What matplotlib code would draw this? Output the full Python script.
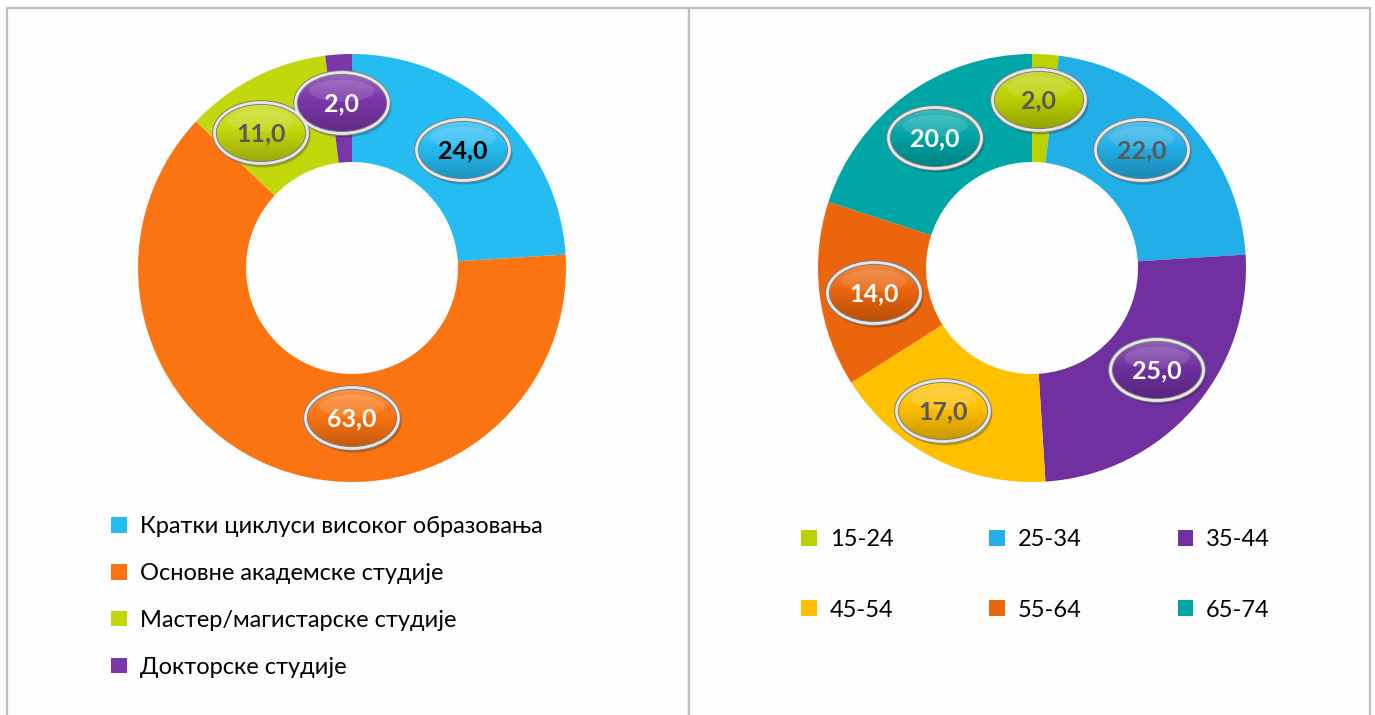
import numpy as np
import matplotlib
matplotlib.use("Agg")
import matplotlib.pyplot as plt
from matplotlib.patches import Ellipse, Rectangle
from matplotlib.colors import to_rgb

plt.rcParams['font.family'] = ['Lato', 'Noto Sans', 'DejaVu Sans']

# ---------------- data ----------------
edu_labels = ["Кратки циклуси високог образовања", "Основне академске студије",
              "Мастер/магистарске студије", "Докторске студије"]
edu_values = [24.0, 63.0, 11.0, 2.0]
edu_colors = ["#25BCF2", "#FA7412", "#C3D80C", "#7B36A8"]
edu_text_colors = ["#000000", "#FFFFFF", "#595959", "#FFFFFF"]

age_labels = ["15-24", "25-34", "35-44", "45-54", "55-64", "65-74"]
age_values = [2.0, 22.0, 25.0, 17.0, 14.0, 20.0]
age_colors = ["#BCD100", "#22AEE6", "#7030A0", "#FFC000", "#EB650C", "#00A5A5"]
age_text_colors = ["#595959", "#595959", "#FFFFFF", "#595959", "#FFFFFF", "#FFFFFF"]

# label bubble positions (pixels, from top-left)
edu_label_pos = [(463, 150), (352, 418), (261, 133), (342, 103)]
age_label_pos = [(1039, 100), (1142, 150), (1157, 370), (943, 411), (874, 293), (935, 138)]

W, H = 1375, 715
fig = plt.figure(figsize=(W / 100, H / 100), dpi=100)
fig.patch.set_facecolor("white")
ax = fig.add_axes([0, 0, 1, 1])
ax.set_axis_off()


def Y(y):
    return H - y


# panels
for x0, x1 in [(7, 689), (689, 1370)]:
    ax.add_patch(Rectangle((x0, Y(740)), x1 - x0, 740 - 8, facecolor="#FDFDFD",
                           edgecolor="#BFBFBF", lw=1.6, zorder=0))

R, r = 214, 106


def donut(center, values, colors):
    wedges, _ = ax.pie(values, colors=colors, startangle=90, counterclock=False,
                       radius=R, center=center,
                       wedgeprops=dict(width=R - r, edgecolor="none", linewidth=0))
    return wedges


def mix(c, other, t):
    c = np.array(to_rgb(c)); o = np.array(to_rgb(other))
    return c * (1 - t) + o * t


def bubble(x, y, text, color, tcolor, w=93, h=61):
    cx, cy = x, Y(y)
    ax.add_patch(Ellipse((cx + 2, cy - 3), w + 2, h + 2, facecolor="black", alpha=0.22,
                         edgecolor="none", zorder=4))
    clip = Ellipse((cx, cy), w, h, facecolor="none", edgecolor="none", zorder=5)
    ax.add_patch(clip)
    n = 64
    top = mix(color, "white", 0.25)
    mid = np.array(to_rgb(color))
    bot = mix(color, "black", 0.22)
    t = np.linspace(0, 1, n)[:, None]
    grad = np.where(t < 0.45, top * (1 - t / 0.45) + mid * (t / 0.45),
                    mid * (1 - (t - 0.45) / 0.55) + bot * ((t - 0.45) / 0.55))
    img = np.repeat(grad[:, None, :], 4, axis=1)
    im = ax.imshow(img, extent=(cx - w / 2, cx + w / 2, cy - h / 2, cy + h / 2),
                   origin="upper", aspect="auto", zorder=5, interpolation="bilinear")
    im.set_clip_path(clip)
    ax.add_patch(Ellipse((cx, cy + h * 0.2), w * 0.7, h * 0.36, facecolor="white",
                         alpha=0.12, edgecolor="none", zorder=6))
    ax.add_patch(Ellipse((cx, cy), w, h, facecolor="none", edgecolor="#7F7F7F", lw=3.4, zorder=7))
    ax.add_patch(Ellipse((cx, cy), w, h, facecolor="none", edgecolor="#E6E6E6", lw=2.0, zorder=8))
    ax.text(cx, cy - 1, text, ha="center", va="center", fontsize=18, fontweight="bold",
            color=tcolor, zorder=9)


w1 = donut((352, Y(268)), edu_values, edu_colors)
w2 = donut((1032, Y(268)), age_values, age_colors)

for v, (px, py), c, tc in zip(edu_values, edu_label_pos, edu_colors, edu_text_colors):
    bubble(px, py, f"{v:.1f}".replace(".", ","), c, tc)
for v, (px, py), c, tc in zip(age_values, age_label_pos, age_colors, age_text_colors):
    bubble(px, py, f"{v:.1f}".replace(".", ","), c, tc)

ax.set_xlim(0, W)
ax.set_ylim(0, H)
ax.set_aspect("auto")

fs = 17
leg1 = ax.legend(w1, edu_labels, loc="upper left",
                 bbox_to_anchor=(102 / W, 1 - 507 / H), frameon=False,
                 fontsize=fs, handlelength=0.64, handleheight=0.64,
                 handletextpad=0.55, labelspacing=1.09, borderaxespad=0)
ax.add_artist(leg1)

# row-major ordering for a 3-column legend
ncol = 3
nrow = int(np.ceil(len(age_labels) / ncol))
order = [rr * ncol + cc for cc in range(ncol) for rr in range(nrow)]
leg2 = ax.legend([w2[i] for i in order], [age_labels[i] for i in order],
                 loc="upper left", ncol=ncol,
                 bbox_to_anchor=(792 / W, 1 - 520 / H), frameon=False,
                 fontsize=fs, handlelength=0.64, handleheight=0.64,
                 handletextpad=0.55, labelspacing=2.08, columnspacing=4.08,
                 borderaxespad=0)

fig.savefig("out.png", dpi=100, facecolor="white")
